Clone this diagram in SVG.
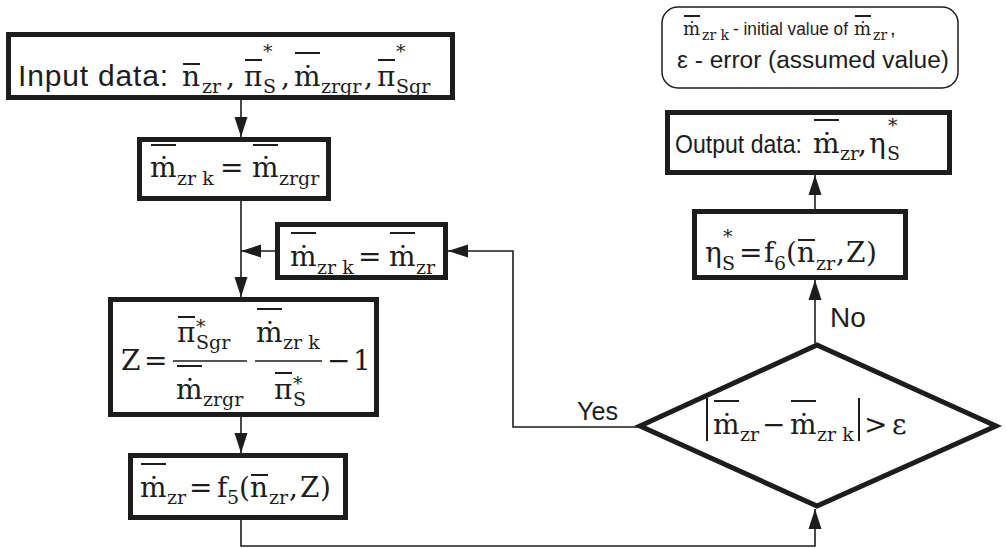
<svg xmlns="http://www.w3.org/2000/svg" width="1007" height="548" viewBox="0 0 1007 548">
<defs>
<style>
.box{fill:#fff;stroke:#1d1d1d;stroke-width:5}
.ln{fill:none;stroke:#1d1d1d;stroke-width:1.6}
.m{font-family:"DejaVu Serif",serif;font-size:28px;fill:#1d1d1d}
.s{font-size:19px}
.t{font-family:"Liberation Sans",Arial,sans-serif;fill:#1d1d1d}
.ov{stroke:#1d1d1d;stroke-width:2}
.fr{stroke:#1d1d1d;stroke-width:1.6}
</style>
<marker id="arr" markerUnits="userSpaceOnUse" markerWidth="20" markerHeight="14" viewBox="0 0 20 14" refX="20" refY="7" orient="auto">
<path d="M0,0.5 L20,7 L0,13.5 z" fill="#1d1d1d"/>
</marker>
</defs>
<rect width="1007" height="548" fill="#fff"/>

<g id="connectors">
<path class="ln" d="M241,100 V137" marker-end="url(#arr)"/>
<path class="ln" d="M241,201 V297" marker-end="url(#arr)"/>
<path class="ln" d="M275,251 H241" marker-end="url(#arr)"/>
<path class="ln" d="M640,427 H513 V251 H448" marker-end="url(#arr)"/>
<path class="ln" d="M241,417 V453" marker-end="url(#arr)"/>
<path class="ln" d="M241,520 V546 H815 V509" marker-end="url(#arr)"/>
<path class="ln" d="M815,343 V280" marker-end="url(#arr)"/>
<path class="ln" d="M815,209 V175" marker-end="url(#arr)"/>
<text class="t" x="577" y="420" font-size="25" textLength="41" lengthAdjust="spacingAndGlyphs">Yes</text>
<text class="t" x="830" y="327" font-size="28">No</text>
</g>

<g id="n-input">
<rect class="box" x="8.5" y="34.5" width="444" height="63"/>
<text class="t" x="18" y="86" font-size="30" textLength="150">Input data:</text>
<text class="m"><tspan x="182" y="86">n</tspan><tspan class="s" x="202" y="93">zr</tspan><tspan x="226" y="86">,</tspan><tspan x="244" y="86">π</tspan><tspan class="s" x="263" y="58">*</tspan><tspan class="s" x="263" y="93">S</tspan><tspan x="281" y="86">,</tspan><tspan x="294" y="86">ṁ</tspan><tspan class="s" x="321" y="93">zrgr</tspan><tspan x="364" y="86">,</tspan><tspan x="377" y="86">π</tspan><tspan class="s" x="396" y="58">*</tspan><tspan class="s" x="396" y="93">Sgr</tspan></text>
<line class="ov" x1="183" y1="64" x2="200" y2="64"/>
<line class="ov" x1="245" y1="60" x2="262" y2="60"/>
<line class="ov" x1="295" y1="53" x2="320" y2="53"/>
<line class="ov" x1="378" y1="60" x2="395" y2="60"/>
</g>

<g id="n-init">
<rect class="box" x="139.5" y="139.5" width="189" height="59"/>
<text class="m"><tspan x="150" y="177">ṁ</tspan><tspan class="s" x="177" y="185">zr k</tspan><tspan x="220" y="177">=</tspan><tspan x="252" y="177">ṁ</tspan><tspan class="s" x="279" y="185">zrgr</tspan></text>
<line class="ov" x1="151" y1="145" x2="176" y2="145"/>
<line class="ov" x1="253" y1="145" x2="278" y2="145"/>
</g>

<g id="n-update">
<rect class="box" x="277.5" y="224.5" width="168" height="53"/>
<text class="m"><tspan x="290" y="266">ṁ</tspan><tspan class="s" x="317" y="274">zr k</tspan><tspan x="358" y="266">=</tspan><tspan x="389" y="266">ṁ</tspan><tspan class="s" x="416" y="274">zr</tspan></text>
<line class="ov" x1="291" y1="233" x2="316" y2="233"/>
<line class="ov" x1="390" y1="233" x2="415" y2="233"/>
</g>

<g id="n-z">
<rect class="box" x="110.5" y="299.5" width="266" height="115"/>
<text class="m"><tspan x="121" y="370">Z</tspan><tspan x="144" y="370">=</tspan><tspan x="177" y="342">π</tspan><tspan class="s" x="196" y="333">*</tspan><tspan class="s" x="196" y="349">Sgr</tspan><tspan x="176" y="399">ṁ</tspan><tspan class="s" x="203" y="406">zrgr</tspan><tspan x="256" y="342">ṁ</tspan><tspan class="s" x="283" y="349">zr k</tspan><tspan x="274" y="399">π</tspan><tspan class="s" x="293" y="390">*</tspan><tspan class="s" x="293" y="406">S</tspan><tspan x="327" y="370">−</tspan><tspan x="353" y="370">1</tspan></text>
<line class="fr" x1="173" y1="361" x2="247" y2="361"/>
<line class="fr" x1="255" y1="361" x2="322" y2="361"/>
<line class="ov" x1="178" y1="317" x2="195" y2="317"/>
<line class="ov" x1="177" y1="366" x2="202" y2="366"/>
<line class="ov" x1="257" y1="309" x2="282" y2="309"/>
<line class="ov" x1="275" y1="373" x2="292" y2="373"/>
</g>

<g id="n-f5">
<rect class="box" x="130.5" y="455.5" width="215" height="62"/>
<text class="m"><tspan x="140" y="497">ṁ</tspan><tspan class="s" x="167" y="504">zr</tspan><tspan x="189" y="497">=</tspan><tspan x="217" y="497">f</tspan><tspan class="s" x="227" y="504">5</tspan><tspan x="239" y="497">(</tspan><tspan x="250" y="497">n</tspan><tspan class="s" x="269" y="504">zr</tspan><tspan x="289" y="497">,</tspan><tspan x="300" y="497">Z</tspan><tspan x="320" y="497">)</tspan></text>
<line class="ov" x1="141" y1="464" x2="166" y2="464"/>
<line class="ov" x1="251" y1="475" x2="268" y2="475"/>
</g>

<g id="n-decision">
<polygon points="817,345 996,426 817,506 640,426" fill="#fff" stroke="#1d1d1d" stroke-width="5" stroke-linejoin="miter"/>
<line class="ov" x1="707" y1="398" x2="707" y2="441"/>
<line class="ov" x1="859" y1="398" x2="859" y2="441"/>
<text class="m"><tspan x="713" y="434">ṁ</tspan><tspan class="s" x="740" y="441">zr</tspan><tspan x="762" y="434">−</tspan><tspan x="790" y="434">ṁ</tspan><tspan class="s" x="817" y="441">zr k</tspan><tspan x="864" y="434">&gt;</tspan><tspan x="892" y="434">ε</tspan></text>
<line class="ov" x1="714" y1="401" x2="739" y2="401"/>
<line class="ov" x1="791" y1="401" x2="816" y2="401"/>
</g>

<g id="n-eta">
<rect class="box" x="694.5" y="211.5" width="211" height="66"/>
<text class="m"><tspan x="705" y="262">η</tspan><tspan class="s" x="723" y="243">*</tspan><tspan class="s" x="722" y="270">S</tspan><tspan x="739" y="262">=</tspan><tspan x="764" y="262">f</tspan><tspan class="s" x="774" y="270">6</tspan><tspan x="786" y="262">(</tspan><tspan x="797" y="262">n</tspan><tspan class="s" x="816" y="270">zr</tspan><tspan x="836" y="262">,</tspan><tspan x="846" y="262">Z</tspan><tspan x="866" y="262">)</tspan></text>
<line class="ov" x1="798" y1="240" x2="815" y2="240"/>
</g>

<g id="n-output">
<rect class="box" x="667.5" y="112.5" width="282" height="60"/>
<text class="t" x="675" y="153" font-size="25" textLength="127" lengthAdjust="spacingAndGlyphs">Output data:</text>
<text class="m"><tspan x="813" y="153">ṁ</tspan><tspan class="s" x="840" y="160">zr</tspan><tspan x="858" y="153">,</tspan><tspan x="869" y="153">η</tspan><tspan class="s" x="888" y="132">*</tspan><tspan class="s" x="887" y="160">S</tspan></text>
<line class="ov" x1="814" y1="120" x2="839" y2="120"/>
</g>

<g id="n-legend">
<rect x="662" y="7" width="296" height="81" rx="16" fill="#fff" stroke="#1d1d1d" stroke-width="1.5"/>
<text class="m" style="font-size:18px"><tspan x="683" y="35">ṁ</tspan><tspan x="702" y="40" style="font-size:14px">zr k</tspan></text>
<text class="t" x="733" y="35" font-size="18" textLength="115" lengthAdjust="spacingAndGlyphs">- initial value of</text>
<text class="m" style="font-size:18px"><tspan x="854" y="35">ṁ</tspan><tspan x="873" y="40" style="font-size:14px">zr</tspan></text>
<text class="t" x="890" y="35" font-size="20">,</text>
<line class="ov" x1="855" y1="16" x2="871" y2="16" stroke-width="1.5"/>
<line class="ov" x1="684" y1="16" x2="700" y2="16" stroke-width="1.5"/>
<text class="t" x="677" y="68" font-size="23" textLength="272" lengthAdjust="spacingAndGlyphs">ε - error (assumed value)</text>
</g>
</svg>
